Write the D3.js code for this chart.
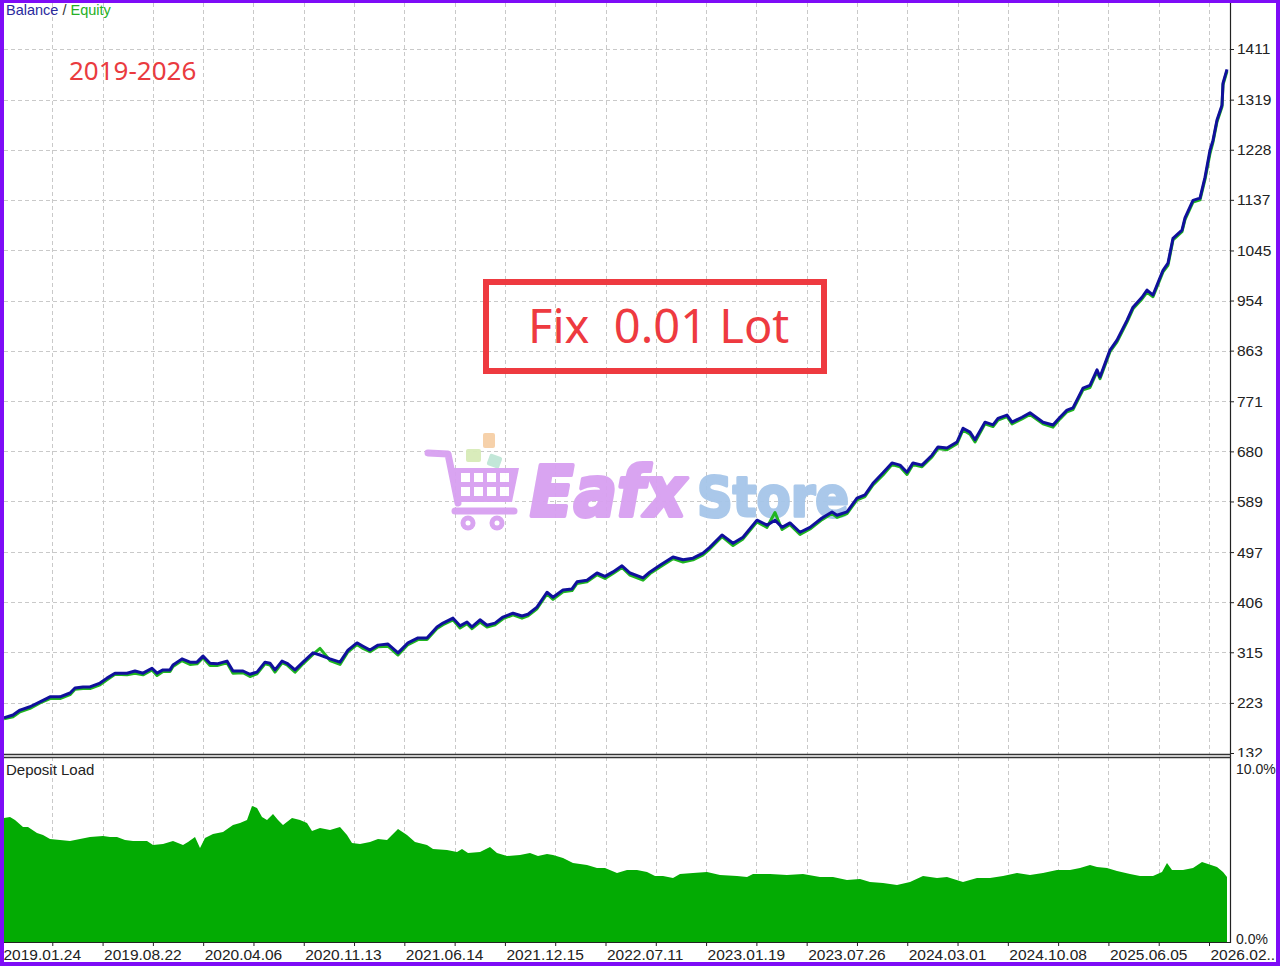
<!DOCTYPE html>
<html><head><meta charset="utf-8">
<script src="https://cdn.jsdelivr.net/npm/d3@7"></script>
<style>html,body{margin:0;padding:0;background:#fff;} svg{display:block}</style>
</head><body><svg id="c" width="1280" height="966"></svg>
<script>
// ---- data ----
const totalDeals = 2414;
const dateLabels = ["2019.01.24","2019.08.22","2020.04.06","2020.11.13","2021.06.14","2021.12.15","2022.07.11","2023.01.19","2023.07.26","2024.03.01","2024.10.08","2025.06.05","2026.02.."];
const balanceTicks = [132,223,315,406,497,589,680,771,863,954,1045,1137,1228,1319,1411];
const loadTicks = [0,10];
const loadTickLabels = ["0.0%","10.0%"];

const balanceDeal = [4,22,36,56,76,96,116,136,146,162, 176,196,210,226,250,266,282,300,310,322,
 336,342,360,376,390,402,416,430,450,462, 482,496,510,526,536,546,560,570,586,602,
 622,636,656,676,692,710,722,736,752,772, 792,812,832,850,870,882,902,916,930,940,
 956,970,986,1002,1022,1040,1052,1070,1090,1102, 1122,1140,1150,1170,1190,1206,1222,1240,1256,1282,
 1296,1316,1342,1362,1382,1402,1416,1440,1462,1482, 1510,1530,1546,1560,1576,1596,1616,1640,1660,1670,
 1690,1710,1726,1742,1762,1780,1796,1810,1822,1840, 1860,1872,1890,1910,1922,1936,1946,1966,1982,1992,
 2010,2020,2040,2056,2082,2102,2116,2130,2142,2162, 2176,2190,2196,2216,2230,2250,2262,2280,2290,2302,
 2322,2332,2342,2360,2366,2382,2396,2406,2416,2422, 2430,2440,2442,2450];
const balance = [196,201,210,216,225,234,234,241,250,252, 252,259,268,277,277,281,277,286,277,283,
 283,292,303,297,297,308,295,294,299,281, 281,275,279,297,295,283,299,295,283,297,
 314,310,303,297,319,332,326,319,328,330, 314,332,341,341,361,368,377,363,370,361,
 374,364,368,379,386,381,384,397,424,415, 428,430,443,446,459,453,461,472,459,450,
 461,473,488,483,486,495,506,528,513,524, 555,546,555,542,550,533,542,559,570,564,
 570,595,601,622,641,659,655,642,659,655, 673,688,686,697,722,715,701,733,728,740,
 746,733,742,750,733,728,742,755,759,795, 800,828,815,864,882,918,942,960,973,964,
 1009,1022,1067,1082,1104,1136,1140,1178,1227,1245, 1282,1309,1349,1374];
const equityGap = [2,3,3,3,2,3,3,3,2,3, 3,3,3,2,3,4,3,3,4,3,
 3,3,3,4,3,3,4,3,3,4, 3,4,3,3,3,4,3,3,4,3,
 3,-12,3,4,3,3,4,3,3,4, 4,3,3,3,3,3,3,4,3,3,
 4,3,3,3,3,4,3,3,3,4, 3,3,3,3,3,4,3,3,4,4,
 3,3,3,4,3,3,3,3,4,3, 3,4,-14,4,3,4,3,3,3,4,
 3,3,3,3,4,3,3,4,3,3, 3,3,3,3,3,4,4,3,3,3,
 3,3,3,3,3,4,3,3,3,3, 4,3,3,3,3,3,3,3,4,3,
 3,4,3,3,3,3,3,4,6,3, 3,3,3,3];

const loadDeal = [4,16,26,42,52,70,82,96,116,136, 156,176,202,216,230,246,262,290,302,322,
 342,362,372,386,396,406,422,442,462,476, 490,500,510,520,530,542,552,562,580,596,
 610,620,636,656,676,690,700,716,736,752, 770,792,810,826,
 850,862,890,910,920,932,956,976,990,1010, 1036,1056,1072,1090,1102,1122,1142,1170,1190,1206,
 1230,1250,1270,1290,1306,1322,1342,1356,1382,1410, 1436,1470,1490,1502,1536,1570,1602,1636,1662,1690,
 1716,1736,1762,1790,1816,1842,1870,1890,1922,1950, 1976,2002,2030,2056,2082,2110,2136,2156,2176,2190,
 2210,2230,2256,2276,2302,2320,2330,2340,2362,2382, 2400,2412,2430,2442,2450];
const depositLoad = [7.09,7.14,6.97,6.57,6.57,6.23,6.11,5.89,5.83,5.77, 5.89,6.00,6.06,6.00,6.00,5.83,5.77,5.77,5.54,5.60,
 5.77,5.54,5.71,6.00,5.37,5.94,6.17,6.29,6.69,6.80, 6.97,7.77,7.66,7.14,6.97,7.31,6.97,6.69,7.09,6.97,
 6.80,6.34,6.51,6.40,6.57,6.11,5.66,5.60,5.71,5.89, 5.83,6.46,6.11,5.71,
 5.54,5.31,5.26,5.14,5.31,5.09,5.14,5.43,5.09,4.91, 4.97,5.09,4.91,5.03,4.97,4.80,4.51,4.40,4.23,4.23,
 3.94,4.11,4.11,4.00,3.77,3.77,3.66,3.89,3.94,4.00, 3.83,3.77,3.71,3.89,3.89,3.83,3.89,3.71,3.71,3.54,
 3.60,3.43,3.37,3.26,3.43,3.77,3.66,3.71,3.43,3.66, 3.66,3.77,3.94,3.83,3.94,4.11,4.11,4.23,4.40,4.29,
 4.23,4.06,3.89,3.77,3.77,4.00,4.51,4.11,4.11,4.23, 4.57,4.46,4.29,4.00,3.71];

// ---- layout ----
const W = 1280, H = 966;
const plotL = 4, axisX = 1230, mainTop = 3, mainBot = 754, loadTop = 757, loadBot = 942;
const svg = d3.select("#c");
const font = "'Liberation Sans', Arial, sans-serif";
const gridColor = "#c9c9c9";

const x = d3.scaleLinear().domain([0, totalDeals]).range([2, 1209]);
const y = d3.scaleLinear().domain([132, 1411]).range([753, 49]);
const yl = d3.scaleLinear().domain([0, 10]).range([942, 767]);

svg.append("rect").attr("width", W).attr("height", H).attr("fill", "#fff");

const gridDeals = d3.range(1, 25).map(k => k * totalDeals / 24);
const labelDeals = dateLabels.map((d, i) => i * totalDeals / 12);

// grid
const gMain = svg.append("g");
gMain.selectAll("line.hg").data(balanceTicks.slice(1)).join("line")
  .attr("x1", plotL).attr("x2", axisX).attr("y1", d => Math.round(y(d)) + 0.5).attr("y2", d => Math.round(y(d)) + 0.5)
  .attr("stroke", gridColor).attr("stroke-dasharray", "4,3");
gMain.selectAll("line.vg").data(gridDeals).join("line")
  .attr("x1", d => Math.round(x(d)) + 0.5).attr("x2", d => Math.round(x(d)) + 0.5)
  .attr("y1", mainTop).attr("y2", mainBot)
  .attr("stroke", gridColor).attr("stroke-dasharray", "4,3");
const gLow = svg.append("g");
gLow.selectAll("line").data(gridDeals).join("line")
  .attr("x1", d => Math.round(x(d)) + 0.5).attr("x2", d => Math.round(x(d)) + 0.5)
  .attr("y1", loadTop).attr("y2", loadBot)
  .attr("stroke", gridColor).attr("stroke-dasharray", "4,3");

// watermark
const wm = svg.append("g").attr("opacity", 0.95);
const pink = "#d8a0f1";
const blue = "#a6c6e9";
wm.append("rect").attr("x", 483).attr("y", 433).attr("width", 12).attr("height", 15).attr("rx", 2).attr("fill", "#f6cfa6");
wm.append("rect").attr("x", 466).attr("y", 449).attr("width", 15).attr("height", 13).attr("rx", 2).attr("fill", "#d7ecb8");
wm.append("rect").attr("x", 488).attr("y", 455).attr("width", 13).attr("height", 12).attr("rx", 2).attr("fill", "#bfe6d6")
  .attr("transform", "rotate(20 494 461)");
wm.append("path").attr("d", "M428,453 L448,454 L458,503").attr("fill", "none").attr("stroke", pink)
  .attr("stroke-width", 7).attr("stroke-linecap", "round").attr("stroke-linejoin", "round");
wm.append("path").attr("d", "M450,468 L519,468 L512,502 L458,502 Z").attr("fill", pink);
[0,1,2,3].forEach(c => [0,1].forEach(r => {
  wm.append("rect").attr("x", 461 + c * 13).attr("y", 473 + r * 14).attr("width", 9).attr("height", 9).attr("fill", "#fff");
}));
wm.append("path").attr("d", "M455,511 L514,511").attr("stroke", pink).attr("stroke-width", 7).attr("stroke-linecap", "round");
[468, 497].forEach(cx => {
  wm.append("circle").attr("cx", cx).attr("cy", 523).attr("r", 7.5).attr("fill", pink);
  wm.append("circle").attr("cx", cx).attr("cy", 523).attr("r", 2.5).attr("fill", "#fff");
});
wm.append("text").attr("x", 530).attr("y", 516).text("Eafx")
  .attr("font-family", "'DejaVu Sans', 'Noto Sans', sans-serif").attr("font-weight", "bold").attr("font-style", "italic")
  .attr("font-size", 70).attr("fill", pink).attr("stroke", pink).attr("stroke-width", 4).attr("stroke-linejoin", "round")
  .attr("textLength", 156).attr("lengthAdjust", "spacingAndGlyphs");
wm.append("text").attr("x", 697).attr("y", 516).text("Store")
  .attr("font-family", "'DejaVu Sans', 'Noto Sans', sans-serif").attr("font-weight", "bold")
  .attr("font-size", 56).attr("fill", blue).attr("stroke", blue).attr("stroke-width", 3).attr("stroke-linejoin", "round")
  .attr("textLength", 152).attr("lengthAdjust", "spacingAndGlyphs");

// balance / equity lines
const pts = balance.map((v, i) => ({ n: balanceDeal[i], b: v, e: v - equityGap[i] }));
const clipMain = svg.append("clipPath").attr("id", "clipMain");
clipMain.append("rect").attr("x", plotL).attr("y", mainTop).attr("width", axisX - plotL).attr("height", mainBot - mainTop);
const gLines = svg.append("g").attr("clip-path", "url(#clipMain)");
gLines.append("path").datum(pts)
  .attr("d", d3.line().x(d => x(d.n)).y(d => y(d.e)))
  .attr("fill", "none").attr("stroke", "#1fb51f").attr("stroke-width", 3).attr("stroke-linejoin", "round");
gLines.append("path").datum(pts)
  .attr("d", d3.line().x(d => x(d.n)).y(d => y(d.b)))
  .attr("fill", "none").attr("stroke", "#10109c").attr("stroke-width", 3).attr("stroke-linejoin", "round");

// deposit load area
const lpts = depositLoad.map((v, i) => ({ n: loadDeal[i], v }));
svg.append("path").datum(lpts)
  .attr("d", d3.area().x(d => x(d.n)).y0(yl(0)).y1(d => yl(d.v)))
  .attr("fill", "#03ab03");

// annotations
svg.append("text").attr("x", 69).attr("y", 80).text("2019-2026")
  .attr("font-family", "'Noto Sans', 'Open Sans', sans-serif").attr("font-size", 26).attr("fill", "#ea3b3f");
svg.append("rect").attr("x", 486).attr("y", 282).attr("width", 338).attr("height", 89)
  .attr("fill", "none").attr("stroke", "#ee3a40").attr("stroke-width", 6);
svg.append("text").attr("x", 528).attr("y", 343).text("Fix  0.01 Lot").style("white-space", "pre")
  .attr("font-family", "'Noto Sans', 'Open Sans', sans-serif").attr("font-size", 47).attr("fill", "#ee3a40");

// legend / panel titles
const leg = svg.append("text").attr("x", 6).attr("y", 15).attr("font-family", font).attr("font-size", 14.5);
leg.append("tspan").text("Balance").attr("fill", "#2b2b9e");
leg.append("tspan").text(" / ").attr("fill", "#333");
leg.append("tspan").text("Equity").attr("fill", "#26b026");
svg.append("text").attr("x", 6).attr("y", 775).text("Deposit Load")
  .attr("font-family", font).attr("font-size", 15).attr("fill", "#222");

// right axis (main) - clipped at the panel separator
const clipAx = svg.append("clipPath").attr("id", "clipAx");
clipAx.append("rect").attr("x", axisX).attr("y", 0).attr("width", W - axisX).attr("height", 757);
const yAxisWrap = svg.append("g").attr("clip-path", "url(#clipAx)");
const yAxisG = yAxisWrap.append("g").attr("transform", `translate(${axisX},0)`)
  .call(d3.axisRight(y).tickValues(balanceTicks).tickSize(4).tickPadding(3).tickFormat(d3.format("d")));
yAxisG.select(".domain").remove();
yAxisG.selectAll("text").attr("font-family", font).attr("font-size", 15.5).attr("fill", "#222");
yAxisG.selectAll("line").attr("stroke", "#222");

// right axis (load)
const ylAxisG = svg.append("g").attr("transform", `translate(${axisX},0)`)
  .call(d3.axisRight(yl).tickValues(loadTicks).tickSize(0).tickPadding(6).tickFormat((d, i) => loadTickLabels[i]));
ylAxisG.select(".domain").remove();
ylAxisG.selectAll("text").attr("font-family", font).attr("font-size", 14).attr("fill", "#222");
ylAxisG.selectAll(".tick").filter(d => d === 0).select("text").attr("dy", "0.1em");
ylAxisG.selectAll(".tick").filter(d => d === 10).select("text").attr("dy", "0.45em");

// bottom axis
const xAxisG = svg.append("g").attr("transform", `translate(0,${loadBot})`)
  .call(d3.axisBottom(x).tickValues(gridDeals).tickSize(4).tickFormat(""));
xAxisG.select(".domain").remove();
xAxisG.selectAll("line").attr("stroke", "#222");
svg.append("g").selectAll("text").data(dateLabels).join("text")
  .attr("x", (d, i) => x(labelDeals[i]) + 1.5).attr("y", 960).text(d => d)
  .attr("font-family", font).attr("font-size", 15.5).attr("fill", "#222");

// frame lines
svg.append("line").attr("x1", axisX + 0.5).attr("x2", axisX + 0.5).attr("y1", 0).attr("y2", loadBot + 1).attr("stroke", "#222").attr("stroke-width", 1.2);
svg.append("line").attr("x1", 0).attr("x2", axisX + 1).attr("y1", mainBot + 0.5).attr("y2", mainBot + 0.5).attr("stroke", "#333").attr("stroke-width", 1.3);
svg.append("line").attr("x1", 0).attr("x2", axisX + 1).attr("y1", loadTop + 0.5).attr("y2", loadTop + 0.5).attr("stroke", "#333").attr("stroke-width", 1.3);
svg.append("line").attr("x1", 0).attr("x2", axisX + 1).attr("y1", loadBot + 0.5).attr("y2", loadBot + 0.5).attr("stroke", "#222").attr("stroke-width", 1.2);

// purple border
const bc = "#7e0cf7";
svg.append("rect").attr("x", 0).attr("y", 0).attr("width", W).attr("height", 3).attr("fill", bc);
svg.append("rect").attr("x", 0).attr("y", H - 4).attr("width", W).attr("height", 4).attr("fill", bc);
svg.append("rect").attr("x", 0).attr("y", 0).attr("width", 4).attr("height", H).attr("fill", bc);
svg.append("rect").attr("x", W - 4).attr("y", 0).attr("width", 4).attr("height", H).attr("fill", bc);
</script></body></html>
